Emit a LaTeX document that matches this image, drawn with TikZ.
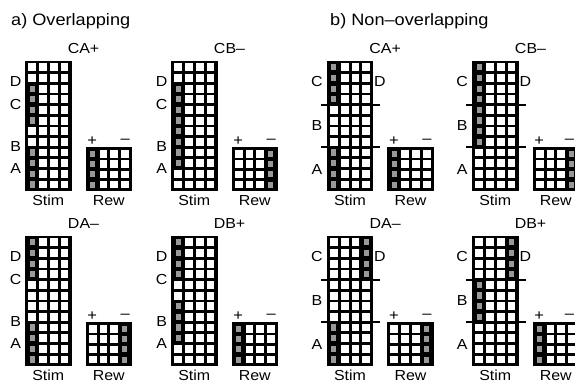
\documentclass[tikz,border=0pt]{standalone}
\usepackage{fontspec}
\setmainfont{Liberation Sans}[FakeStretch=1.1]

% A black grid block: #1 x0, #2 y0 (top left), #3 rows, #4 row pitch,
% #5 shaded cells as col/row pairs. Four columns throughout.
\newcommand{\cellgrid}[5]{%
  \pgfmathsetmacro{\gridh}{#3*#4+3}
  \fill[gridbg] (#1,#2) rectangle ++(46.5,\gridh);
  \foreach \cc in {1,...,4}{
    \foreach \rr in {1,...,#3}{
      \fill[hole] ({#1+3.2+(\cc-1)*10.8},{#2+2.9+(\rr-1)*#4}) rectangle ++(7.8,{#4-2.8});
    }
  }
  \foreach \cc/\rr in {#5}{
    \fill[gridbg] ({#1+3.2+(\cc-1)*10.8},{#2+2.9+(\rr-1)*#4}) rectangle ++(7.8,{#4-2.8});
    \fill[stipple] ({#1+3.2+(\cc-1)*10.8+1.3},{#2+2.9+(\rr-1)*#4+0.8}) rectangle ++(5,{#4-4.4});
  }
}

% Common parts of one condition: title, stimulus and reward grids, axis labels.
% #1 name, #2 x0, #3 y0, #4 title, #5 stimulus shading, #6 reward shading
\newcommand{\condition}[6]{%
  \node[cond] (#1-title) at (#2+58.5,#3-7) {#4};
  \cellgrid{#2}{#3}{12}{10.65}{#5}
  \cellgrid{#2+60.5}{#3+86.6}{4}{10.3}{#6}
  \node[axis] (#1-stim) at (#2+23.25,#3+145.2) {Stim};
  \node[axis] (#1-rew) at (#2+83.75,#3+145.2) {Rew};
  \node[sign] (#1-plus) at (#2+67.3,#3+80.8) {+};
  \node[sign] (#1-minus) at ({min(#2+100.2,569.5)},#3+80.8) {–};
}

% Overlapping layout: D rows 1-4, C rows 3-6, B rows 7-10, A rows 9-12
\newcommand{\overlapcond}[6]{%
  \condition{#1}{#2}{#3}{#4}{#5}{#6}
  \node[letter] (#1-D) at (#2-9.3,#3+21.5) {D};
  \node[letter] (#1-C) at (#2-9.3,#3+44.1) {C};
  \node[letter] (#1-B) at (#2-9.3,#3+85.7) {B};
  \node[letter] (#1-A) at (#2-9.3,#3+108.5) {A};
}

% Non-overlapping layout: C and D rows 1-4, B rows 5-8, A rows 9-12
\newcommand{\splitcond}[6]{%
  \condition{#1}{#2}{#3}{#4}{#5}{#6}
  \node[letter] (#1-C) at (#2-9.8,#3+21.5) {C};
  \node[letter] (#1-D) at (#2+53.3,#3+21.5) {D};
  \node[letter] (#1-B) at (#2-9.8,#3+65.4) {B};
  \node[letter] (#1-A) at (#2-9.8,#3+109) {A};
  \draw[divider] (#2-6,#3+44.1) -- (#2+53.5,#3+44.1);
  \draw[divider] (#2-6,#3+86.7) -- (#2+53.5,#3+86.7);
}

\begin{document}
\begin{tikzpicture}[x=1pt,y=-1pt,
  gridbg/.style={fill=black},
  hole/.style={fill=white},
  stipple/.style={fill=black!40},
  heading/.style={font=\fontsize{16.5}{19}\selectfont, anchor=base west, inner sep=0},
  cond/.style={font=\fontsize{14.5}{17}\selectfont, anchor=base, inner sep=0},
  axis/.style={font=\fontsize{14.5}{17}\selectfont, anchor=base, inner sep=0},
  letter/.style={font=\fontsize{14.5}{17}\selectfont, inner sep=0},
  sign/.style={font=\fontsize{15}{17}\selectfont, inner sep=0},
  divider/.style={line width=2pt}]
\clip (0,0) rectangle (575,383);
\fill[white] (0,0) rectangle (575,383);

\node[heading] (ha) at (11,25) {a) Overlapping};
\node[heading] (hb) at (330,25) {b) Non–overlapping};

% a) overlapping
\overlapcond{aCA}{25}{60.5}{CA+}{1/3,1/4,1/5,1/6,1/9,1/10,1/11,1/12}{1/1,1/2,1/3,1/4}
\overlapcond{aCB}{171}{60.5}{CB–}{1/3,1/4,1/5,1/6,1/7,1/8,1/9,1/10}{4/1,4/2,4/3,4/4}
\overlapcond{aDA}{25}{235.5}{DA–}{1/1,1/2,1/3,1/4,1/9,1/10,1/11,1/12}{4/1,4/2,4/3,4/4}
\overlapcond{aDB}{171}{235.5}{DB+}{1/1,1/2,1/3,1/4,1/7,1/8,1/9,1/10}{1/1,1/2,1/3,1/4}

% b) non-overlapping
\splitcond{bCA}{326.7}{60.5}{CA+}{1/1,1/2,1/3,1/4,1/9,1/10,1/11,1/12}{1/1,1/2,1/3,1/4}
\splitcond{bCB}{472}{60.5}{CB–}{1/1,1/2,1/3,1/4,1/5,1/6,1/7,1/8}{4/1,4/2,4/3,4/4}
\splitcond{bDA}{326.7}{235.5}{DA–}{4/1,4/2,4/3,4/4,1/9,1/10,1/11,1/12}{4/1,4/2,4/3,4/4}
\splitcond{bDB}{472}{235.5}{DB+}{4/1,4/2,4/3,4/4,1/5,1/6,1/7,1/8}{1/1,1/2,1/3,1/4}
\end{tikzpicture}
\end{document}
